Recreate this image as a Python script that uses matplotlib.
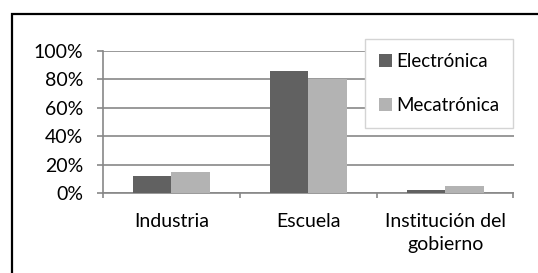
import matplotlib
matplotlib.use("Agg")
import numpy as np
from matplotlib import pyplot as plt
from matplotlib.patches import Rectangle
from matplotlib.ticker import PercentFormatter

# datos
categorias = ["Industria", "Escuela", "Institución del\ngobierno"]
electronica = [12, 86, 2]
mecatronica = [15, 80, 5]
series = ["Electrónica", "Mecatrónica"]

plt.rcParams['font.family'] = ['Lato', 'DejaVu Sans']

W, H = 538, 273
fig = plt.figure(figsize=(W / 100, H / 100), dpi=100)
ax = fig.add_axes([103 / W, 1 - 193.3 / H, (513.5 - 103) / W, (193.3 - 51) / H])

x = np.arange(len(categorias))
ancho = 0.281
ax.bar(x - ancho / 2, electronica, ancho, color='#616161', label=series[0], zorder=3)
ax.bar(x + ancho / 2, mecatronica, ancho, color='#b3b3b3', label=series[1], zorder=3)

ax.set_xlim(-0.5, 2.5)
ax.set_ylim(0, 100)
ax.set_yticks(range(0, 101, 20))
ax.yaxis.set_major_formatter(PercentFormatter(decimals=0))
ax.grid(axis='y', color='#878787', linewidth=1.2, zorder=0)

# marcas de categoría en los bordes
ax.set_xticks(x)
ax.set_xticklabels(categorias, fontsize=14, linespacing=1.45)
ax.set_xticks([-0.5, 0.5, 1.5, 2.5], minor=True)
ax.tick_params(axis='x', which='major', length=0, pad=14)
ax.tick_params(axis='x', which='minor', length=3.6, width=1.2, color='#878787', direction='out')
ax.tick_params(axis='y', length=4.3, width=1.2, color='#878787', labelsize=14, pad=10)

for lado in ['top', 'right']:
    ax.spines[lado].set_visible(False)
for lado in ['left', 'bottom']:
    ax.spines[lado].set_color('#878787')
    ax.spines[lado].set_linewidth(1.2)

leg = ax.legend(loc='upper right', bbox_to_anchor=(513 / W, 1 - 39 / H),
                bbox_transform=fig.transFigure, fontsize=13.5, frameon=True,
                fancybox=False, framealpha=1, edgecolor='#d4d4d4',
                handlelength=0.7, handleheight=0.7, handletextpad=0.2,
                labelspacing=1.45, borderpad=0.75, borderaxespad=0)
leg.get_frame().set_linewidth(1.0)
leg.set_zorder(5)

# marco exterior del gráfico
fig.patches.append(Rectangle((12 / W, -0.1), 1.2, 1 - 14 / H + 0.1,
                             transform=fig.transFigure, fill=False,
                             edgecolor='black', linewidth=1.6))

fig.savefig('out.png', dpi=100)
